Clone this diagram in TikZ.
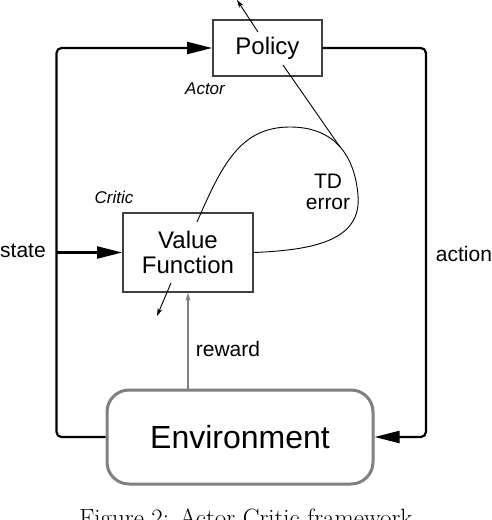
\documentclass[tikz,border=0pt]{standalone}
\usepackage{fontspec}
\setsansfont{Liberation Sans}
\usetikzlibrary{arrows.meta}

\tikzset{%
    block/.style = {draw = black!75, line width = 1.8pt, fill = white,
        font = \sffamily\fontsize{24}{27}\selectfont, align = center},
    envblock/.style = {draw = black!50, line width = 3pt, rounded corners = 22pt,
        font = \sffamily\fontsize{32}{36}\selectfont,
        minimum width = 266pt, minimum height = 94pt},
    loopline/.style = {line width = 2.2pt, rounded corners = 5pt},
    bigtip/.style = {-{Triangle[length = 25pt, width = 12pt]}},
    label/.style = {font = \sffamily\fontsize{21}{24}\selectfont},
    rolelabel/.style = {font = \sffamily\itshape\fontsize{17}{20}\selectfont},
}

\begin{document}
\begin{tikzpicture}[x = 1pt, y = -1pt]

        \useasboundingbox (0, 0) rectangle (492, 520);

        % The three boxes: actor, critic and environment.
        \node[block, minimum width = 109pt, minimum height = 56pt] (policy) at (267.5, 48) {Policy};
        \node[block, minimum width = 130pt, minimum height = 79pt] (value) at (188, 252.5)
            {Value\\[-2pt]Function};
        \node[envblock] (env) at (240, 437) {Environment};

        % Outer loop: state goes back to both boxes, action goes to the environment.
        \draw[loopline, bigtip] (env.west) -- ++(-49, 0) coordinate (stateleg) |- (policy.west);
        \draw[line width = 2.2pt, bigtip] (stateleg |- value.west) -- (value.west);
        \draw[loopline, bigtip] (policy.east) -- ++(103, 0) |- (env.east);

        % Reward from the environment to the critic.
        \draw[black!50, line width = 1.6pt, -{Stealth[length = 8pt, width = 5pt]}]
            (env.north -| value.south) -- (value.south);

        % The TD error loop and the two adaptation arrows.
        \coordinate (tdstart) at (value.east);
        \coordinate (tdend) at (197, 222);
        \coordinate (tdhit) at (340, 147);
        \coordinate (polin) at (283, 65);
        \coordinate (polout) at (258, 32);
        \coordinate (poltip) at (237, 0);
        \coordinate (valout) at (171, 283);
        \coordinate (valtip) at (157, 316);
        \draw[line width = 0.9pt] (tdstart) .. controls (315, 250) and (362, 240) .. (358, 195)
            .. controls (354, 150) and (330, 127) .. (290, 127)
            .. controls (240, 127) and (222, 165) .. (tdend);
        \draw[line width = 0.9pt] (tdhit) -- (polin);
        \draw[line width = 0.9pt, -{Stealth[length = 8pt, width = 5pt]}] (polout) -- (poltip);
        \draw[line width = 0.9pt, -{Stealth[length = 8pt, width = 5pt]}] (valout) -- (valtip);

        % Labels.
        \node[label] (statelabel) at (23, 251) {state};
        \node[label] (actionlabel) at (464, 254) {action};
        \node[label] (rewardlabel) at (228, 349) {reward};
        \node[label, align = center] (tdlabel) at (328, 192) {TD\\[-3pt]error};
        \node[rolelabel] (actorlabel) at (205, 89) {Actor};
        \node[rolelabel] (criticlabel) at (114, 197) {Critic};

        % Caption, cut by the bottom edge.
        \node[anchor = base, font = \fontsize{25}{29}\selectfont] (caption) at (246, 526.5)
            {Figure 2: Actor-Critic framework};
    \end{tikzpicture}
\end{document}
